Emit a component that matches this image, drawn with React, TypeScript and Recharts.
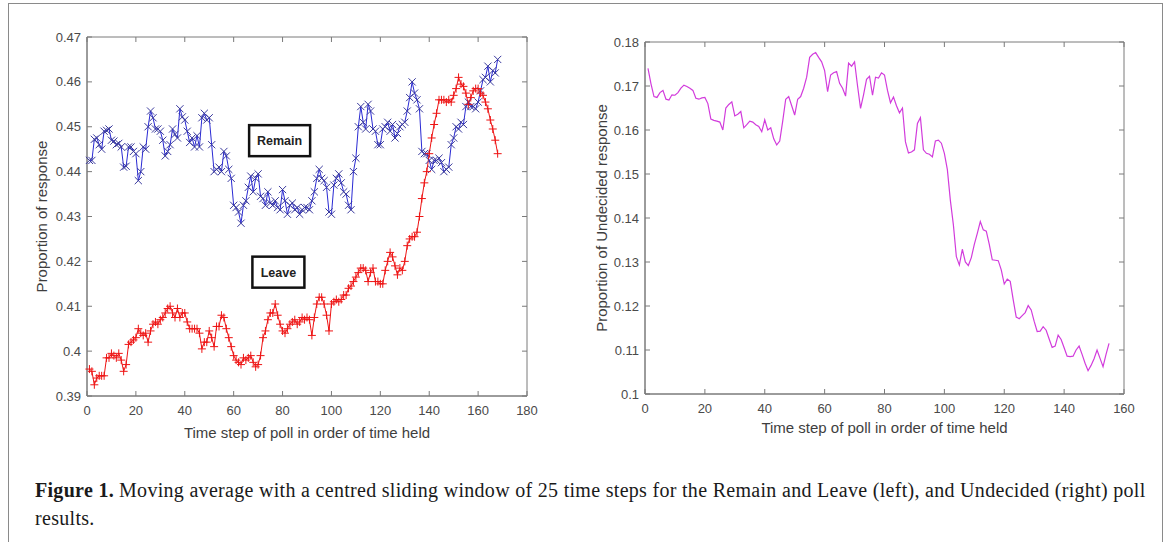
import React from 'react';
import { LineChart, Line, XAxis, YAxis, ReferenceDot, ReferenceArea } from 'recharts';

// ── Data (time step = index + 1) ──────────────────────────────────────────────

const REMAIN = [
  0.4425, 0.4425, 0.4472, 0.4475, 0.4460, 0.4450, 0.4490, 0.4492, 0.4495, 0.4470,
  0.4468, 0.4460, 0.4463, 0.4455, 0.4410, 0.4412, 0.4455, 0.4455, 0.4445, 0.4440,
  0.4380, 0.4400, 0.4455, 0.4450, 0.4500, 0.4535, 0.4520, 0.4495, 0.4495, 0.4490,
  0.4470, 0.4435, 0.4445, 0.4460, 0.4495, 0.4483, 0.4475, 0.4540, 0.4522, 0.4515,
  0.4490, 0.4465, 0.4475, 0.4455, 0.4480, 0.4455, 0.4520, 0.4530, 0.4515, 0.4520,
  0.4460, 0.4400, 0.4405, 0.4410, 0.4400, 0.4445, 0.4435, 0.4405, 0.4385, 0.4325,
  0.4320, 0.4310, 0.4285, 0.4325, 0.4335, 0.4365, 0.4390, 0.4355, 0.4385, 0.4395,
  0.4345, 0.4340, 0.4325, 0.4355, 0.4330, 0.4325, 0.4335, 0.4320, 0.4315, 0.4360,
  0.4335, 0.4305, 0.4325, 0.4330, 0.4315, 0.4320, 0.4305, 0.4315, 0.4320, 0.4320,
  0.4315, 0.4335, 0.4355, 0.4385, 0.4405, 0.4385, 0.4380, 0.4365, 0.4310, 0.4305,
  0.4370, 0.4385, 0.4395, 0.4375, 0.4355, 0.4350, 0.4325, 0.4315, 0.4400, 0.4430,
  0.4500, 0.4545, 0.4510, 0.4495, 0.4550, 0.4535, 0.4495, 0.4490, 0.4460, 0.4460,
  0.4495, 0.4500, 0.4510, 0.4490, 0.4505, 0.4475, 0.4485, 0.4500, 0.4505, 0.4510,
  0.4535, 0.4565, 0.4600, 0.4575, 0.4560, 0.4540, 0.4445, 0.4440, 0.4440, 0.4425,
  0.4405, 0.4425, 0.4425, 0.4430, 0.4420, 0.4400, 0.4405, 0.4410, 0.4460, 0.4475,
  0.4500, 0.4495, 0.4510, 0.4505, 0.4545, 0.4555, 0.4545, 0.4545, 0.4540, 0.4555,
  0.4580, 0.4605, 0.4610, 0.4635, 0.4600, 0.4625, 0.4620, 0.4650,
];

const LEAVE = [
  0.3960, 0.3955, 0.3925, 0.3940, 0.3945, 0.3945, 0.3945, 0.3985, 0.3985, 0.3995,
  0.3990, 0.3985, 0.3995, 0.3980, 0.3955, 0.3970, 0.4015, 0.4020, 0.4025, 0.4030,
  0.4050, 0.4040, 0.4035, 0.4040, 0.4020, 0.4045, 0.4060, 0.4065, 0.4060, 0.4070,
  0.4075, 0.4085, 0.4095, 0.4100, 0.4085, 0.4075, 0.4095, 0.4075, 0.4085, 0.4085,
  0.4065, 0.4050, 0.4050, 0.4050, 0.4050, 0.4040, 0.4005, 0.4020, 0.4020, 0.4045,
  0.4030, 0.4010, 0.4055, 0.4055, 0.4080, 0.4075, 0.4050, 0.4030, 0.4010, 0.3990,
  0.3980, 0.3975, 0.3970, 0.3985, 0.3980, 0.3985, 0.3990, 0.3975, 0.3965, 0.3970,
  0.3990, 0.4030, 0.4045, 0.4070, 0.4085, 0.4085, 0.4105, 0.4080, 0.4060, 0.4045,
  0.4040, 0.4050, 0.4060, 0.4065, 0.4070, 0.4060, 0.4065, 0.4075, 0.4070, 0.4075,
  0.4070, 0.4035, 0.4075, 0.4105, 0.4120, 0.4120, 0.4105, 0.4080, 0.4045, 0.4105,
  0.4110, 0.4115, 0.4110, 0.4115, 0.4125, 0.4125, 0.4140, 0.4145, 0.4155, 0.4165,
  0.4175, 0.4185, 0.4185, 0.4180, 0.4155, 0.4175, 0.4185, 0.4155, 0.4155, 0.4150,
  0.4150, 0.4180, 0.4200, 0.4220, 0.4210, 0.4190, 0.4170, 0.4185, 0.4180, 0.4200,
  0.4235, 0.4250, 0.4255, 0.4255, 0.4265, 0.4300, 0.4340, 0.4375, 0.4400, 0.4440,
  0.4475, 0.4505, 0.4530, 0.4560, 0.4560, 0.4560, 0.4555, 0.4560, 0.4555, 0.4570,
  0.4585, 0.4610, 0.4595, 0.4590, 0.4575, 0.4550, 0.4565, 0.4580, 0.4585, 0.4585,
  0.4575, 0.4570, 0.4555, 0.4540, 0.4515, 0.4495, 0.4470, 0.4440,
];

const UNDECIDED = [
  0.1740, 0.1705, 0.1676, 0.1674, 0.1685, 0.1690, 0.1670, 0.1668, 0.1680, 0.1679,
  0.1685, 0.1695, 0.1702, 0.1699, 0.1695, 0.1690, 0.1672, 0.1670, 0.1673, 0.1674,
  0.1660, 0.1625, 0.1622, 0.1620, 0.1618, 0.1600, 0.1650, 0.1658, 0.1664, 0.1632,
  0.1636, 0.1642, 0.1605, 0.1612, 0.1620, 0.1618, 0.1612, 0.1608, 0.1596, 0.1623,
  0.1600, 0.1605, 0.1580, 0.1566, 0.1575, 0.1620, 0.1670, 0.1676, 0.1655, 0.1634,
  0.1670, 0.1676, 0.1695, 0.1720, 0.1765, 0.1772, 0.1776, 0.1765, 0.1755, 0.1735,
  0.1687, 0.1725, 0.1730, 0.1733, 0.1706, 0.1695, 0.1677, 0.1752, 0.1745, 0.1755,
  0.1700, 0.1649, 0.1680, 0.1715, 0.1722, 0.1679, 0.1720, 0.1718, 0.1730, 0.1725,
  0.1690, 0.1662, 0.1675, 0.1655, 0.1639, 0.1650, 0.1573, 0.1548, 0.1550, 0.1555,
  0.1615, 0.1628, 0.1555, 0.1547, 0.1545, 0.1539, 0.1575, 0.1577, 0.1570, 0.1547,
  0.1510, 0.1440, 0.1385, 0.1312, 0.1293, 0.1329, 0.1300, 0.1292, 0.1310, 0.1340,
  0.1365, 0.1392, 0.1373, 0.1370, 0.1340, 0.1305, 0.1304, 0.1303, 0.1282, 0.1250,
  0.1261, 0.1256, 0.1214, 0.1175, 0.1171, 0.1178, 0.1185, 0.1201, 0.1191, 0.1165,
  0.1142, 0.1143, 0.1153, 0.1145, 0.1125, 0.1106, 0.1109, 0.1134, 0.1124, 0.1105,
  0.1086, 0.1085, 0.1086, 0.1100, 0.1109, 0.1090, 0.1070, 0.1053, 0.1065, 0.1080,
  0.1100, 0.1081, 0.1062, 0.1090, 0.1115,
];

const LEFT_X_TICKS = [0, 20, 40, 60, 80, 100, 120, 140, 160, 180];
const LEFT_Y_TICKS = [0.39, 0.40, 0.41, 0.42, 0.43, 0.44, 0.45, 0.46, 0.47];
const RIGHT_X_TICKS = [0, 20, 40, 60, 80, 100, 120, 140, 160];
const RIGHT_Y_TICKS = [0.10, 0.11, 0.12, 0.13, 0.14, 0.15, 0.16, 0.17, 0.18];

const leftRows = REMAIN.map((r, i) => ({ t: i + 1, remain: r, leave: LEAVE[i] }));
const rightRows = UNDECIDED.map((u, i) => ({ t: i + 1, undecided: u }));

// ── Styling ───────────────────────────────────────────────────────────────────

const SANS = '"Liberation Sans", Arial, Helvetica, sans-serif';
const SERIF = '"Liberation Serif", "DejaVu Serif", serif';
const AXIS = '#7a7a7a';
const TICK_TEXT = '#4a4a4a';
const LABEL_TEXT = '#3e3e3e';
const BLUE = '#2a2ad4';
const RED = '#ee1414';
const MAGENTA = '#d23cdc';
const TICK_LEN = 5;

const fmt = (v: number) => String(Number(v.toFixed(2)));

// MATLAB-style inward ticks, mirrored on the opposite side of the box (span = plot size)
function BottomTick({ x, y, payload, span }: any) {
  return (
    <g>
      <line x1={x} x2={x} y1={y} y2={y - TICK_LEN} stroke={AXIS} />
      <line x1={x} x2={x} y1={y - span} y2={y - span + TICK_LEN} stroke={AXIS} />
      <text x={x} y={y + 19} textAnchor="middle" fontSize={13} fill={TICK_TEXT} fontFamily={SANS}>
        {payload.value}
      </text>
    </g>
  );
}
function LeftTick({ x, y, payload, span }: any) {
  return (
    <g>
      <line x1={x} x2={x + TICK_LEN} y1={y} y2={y} stroke={AXIS} />
      <line x1={x + span} x2={x + span - TICK_LEN} y1={y} y2={y} stroke={AXIS} />
      <text x={x - 6} y={y + 4.5} textAnchor="end" fontSize={13} fill={TICK_TEXT} fontFamily={SANS}>
        {fmt(payload.value)}
      </text>
    </g>
  );
}

// markers
const crossDot = (props: any) => {
  const { cx, cy, index } = props;
  const s = 3.6;
  return (
    <path
      key={`x${index}`}
      d={`M${cx - s},${cy - s}L${cx + s},${cy + s}M${cx - s},${cy + s}L${cx + s},${cy - s}`}
      stroke="#3a3a9e"
      strokeWidth={1}
      fill="none"
    />
  );
};
const plusDot = (props: any) => {
  const { cx, cy, index } = props;
  const s = 4;
  return (
    <path
      key={`p${index}`}
      d={`M${cx - s},${cy}L${cx + s},${cy}M${cx},${cy - s}L${cx},${cy + s}`}
      stroke={RED}
      strokeWidth={1}
      fill="none"
    />
  );
};

function TextBox({ cx, cy, w, text }: any) {
  const h = 31;
  return (
    <g>
      <rect x={cx - w / 2} y={cy - h / 2} width={w} height={h} fill="#fff" stroke="#111" strokeWidth={2.5} />
      <text x={cx} y={cy + 4.5} textAnchor="middle" fontSize={12.5} fontWeight="bold" fill="#222" fontFamily={SANS}>
        {text}
      </text>
    </g>
  );
}

const axisLabel = (value: string, offset: number) => ({
  value, position: 'insideBottom' as const, offset,
  style: { fontSize: 15, fill: LABEL_TEXT, fontFamily: SANS },
});
const yLabel = (value: string, offset: number) => ({
  value, angle: -90, position: 'insideLeft' as const, offset,
  style: { fontSize: 15, fill: LABEL_TEXT, fontFamily: SANS, textAnchor: 'middle' as const },
});

// ── Charts ────────────────────────────────────────────────────────────────────

function LeftChart() {
  return (
    <LineChart width={560} height={450} data={leftRows} margin={{ top: 37, right: 33, bottom: 0, left: 0 }}>
      <XAxis
        dataKey="t" type="number" domain={[0, 180]} ticks={LEFT_X_TICKS} interval={0}
        height={54} tickSize={0} tickMargin={0} tickLine={false} tick={<BottomTick span={359} />}
        axisLine={{ stroke: AXIS }} label={axisLabel('Time step of poll in order of time held', 12)}
      />
      <YAxis
        type="number" domain={[0.39, 0.47]} ticks={LEFT_Y_TICKS} interval={0} allowDataOverflow
        width={87} tickSize={0} tickMargin={0} tickLine={false} tick={<LeftTick span={440} />}
        axisLine={{ stroke: AXIS }} label={yLabel('Proportion of response', 42)}
      />
      <ReferenceArea x1={0} x2={180} y1={0.39} y2={0.47} fill="none" stroke={AXIS} strokeWidth={1} />
      <Line dataKey="remain" stroke={BLUE} strokeWidth={1} dot={crossDot} activeDot={false} isAnimationActive={false} />
      <Line dataKey="leave" stroke={RED} strokeWidth={1} dot={plusDot} activeDot={false} isAnimationActive={false} />
      <ReferenceDot x={78.8} y={0.4469} shape={(p: any) => <TextBox cx={p.cx} cy={p.cy} w={61} text="Remain" />} />
      <ReferenceDot x={78.3} y={0.4176} shape={(p: any) => <TextBox cx={p.cx} cy={p.cy} w={52} text="Leave" />} />
    </LineChart>
  );
}

function RightChart() {
  return (
    <LineChart width={600} height={450} data={rightRows} margin={{ top: 42, right: 36, bottom: 0, left: 0 }}>
      <XAxis
        dataKey="t" type="number" domain={[0, 160]} ticks={RIGHT_X_TICKS} interval={0}
        height={56} tickSize={0} tickMargin={0} tickLine={false} tick={<BottomTick span={352} />}
        axisLine={{ stroke: AXIS }} label={axisLabel('Time step of poll in order of time held', 17)}
      />
      <YAxis
        type="number" domain={[0.1, 0.18]} ticks={RIGHT_Y_TICKS} interval={0} allowDataOverflow
        width={85} tickSize={0} tickMargin={0} tickLine={false} tick={<LeftTick span={479} />}
        axisLine={{ stroke: AXIS }} label={yLabel('Proportion of Undecided response', 42)}
      />
      <ReferenceArea x1={0} x2={160} y1={0.1} y2={0.18} fill="none" stroke={AXIS} strokeWidth={1} />
      <Line dataKey="undecided" stroke={MAGENTA} strokeWidth={1.2} dot={false} activeDot={false} isAnimationActive={false} />
    </LineChart>
  );
}

const captionLine: React.CSSProperties = {
  position: 'absolute', left: 35, whiteSpace: 'nowrap', letterSpacing: '0.3px',
  fontFamily: SERIF, fontSize: 20, lineHeight: '28px', color: '#1a1a1a',
};

export default function App() {
  return (
    <div style={{ position: 'absolute', left: 0, top: 0, width: 1170, height: 542, background: '#fff', overflow: 'hidden' }}>
      {/* figure frame */}
      <div style={{ position: 'absolute', left: 8, top: 3, width: 1155, height: 560, border: '1.5px solid #8a8a8a', boxSizing: 'border-box' }} />
      <div style={{ position: 'absolute', left: 0, top: 0 }}>
        <LeftChart />
      </div>
      <div style={{ position: 'absolute', left: 560, top: 0 }}>
        <RightChart />
      </div>
      <div style={{ ...captionLine, top: 476 }}>
        <span style={{ fontWeight: 'bold', marginRight: 5 }}>Figure 1.</span>
        <span>Moving average with a centred sliding window of 25 time steps for the Remain and Leave (left), and Undecided (right) poll</span>
      </div>
      <div style={{ ...captionLine, top: 504 }}>results.</div>
    </div>
  );
}
